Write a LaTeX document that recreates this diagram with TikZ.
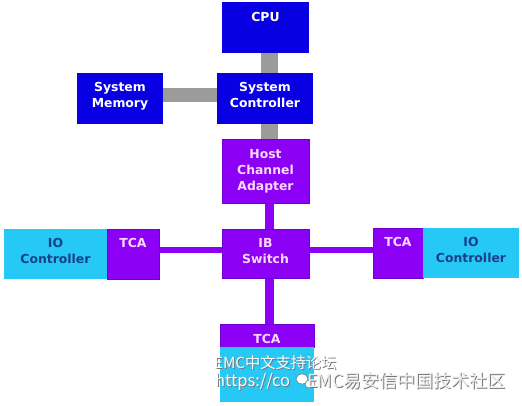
\documentclass[tikz,border=0pt]{standalone}
\usepackage{fontspec}
\setmainfont{DejaVu Sans}
\newfontfamily\cjk{Noto Sans CJK SC}
\usetikzlibrary{backgrounds}
\definecolor{cpublue}{RGB}{8,0,226}
\definecolor{ibpurple}{RGB}{140,0,245}
\definecolor{ibedge}{RGB}{112,0,205}
\definecolor{ioblue}{RGB}{38,200,245}
\definecolor{busgray}{RGB}{155,155,155}
\definecolor{pinktext}{RGB}{250,218,255}
\definecolor{iotext}{RGB}{24,62,140}
\definecolor{wmshadow}{RGB}{120,120,120}
\tikzset{
  x=1pt, y=-1pt,
  boxbase/.style={rectangle, inner sep=0pt, outer sep=0pt},
  bluebox/.style={boxbase, fill=cpublue},
  purplebox/.style={boxbase, fill=ibpurple, draw=ibedge, line width=0.8pt},
  iobox/.style={boxbase, fill=ioblue},
  lbl/.style={anchor=north, inner sep=0pt, align=center,
    font=\bfseries\fontsize{12.4}{16}\selectfont},
  whitelbl/.style={lbl, text=white},
  pinklbl/.style={lbl, text=pinktext},
  iolbl/.style={lbl, text=iotext},
  graybus/.style={draw=busgray, line width=#1},
  purplebus/.style={draw=ibpurple, line width=#1},
  wm/.style={anchor=north west, inner sep=0pt, font=\cjk\fontsize{15.2}{16}\selectfont},
}
\begin{document}
\begin{tikzpicture}
\useasboundingbox (0,0) rectangle (522,406);
% boxes
\node[bluebox, minimum width=87pt, minimum height=51pt] (cpu) at (265.5,27.5) {};
\node[bluebox, minimum width=96pt, minimum height=51pt] (sysc) at (265,98.5) {};
\node[bluebox, minimum width=86pt, minimum height=51pt] (mem) at (120,98.5) {};
\node[purplebox, minimum width=87pt, minimum height=64pt] (hca) at (265.5,171) {};
\node[purplebox, minimum width=87pt, minimum height=49pt] (ib) at (265.5,253.5) {};
\node[iobox, minimum width=103pt, minimum height=50pt] (iol) at (55.5,254) {};
\node[purplebox, minimum width=52pt, minimum height=50pt] (tcal) at (133,254) {};
\node[purplebox, minimum width=50pt, minimum height=50pt] (tcar) at (398,253) {};
\node[iobox, minimum width=96pt, minimum height=50pt] (ior) at (471,253) {};
\node[purplebox, minimum width=94pt, minimum height=23pt] (tcab) at (267,335.5) {};
\node[iobox, minimum width=94pt, minimum height=55pt] (iob) at (267,374.5) {};
% labels
\node[whitelbl] (cpu-t) at (265.5,12.5) {CPU};
\node[whitelbl] (sysc-t) at (265,82.5) {System\\Controller};
\node[whitelbl] (mem-t) at (120,82.5) {System\\Memory};
\node[pinklbl] (hca-t) at (265.5,149.5) {Host\\Channel\\Adapter};
\node[pinklbl] (ib-t) at (265.5,238.5) {IB\\Switch};
\node[iolbl] (iol-t) at (55.5,238.5) {IO\\Controller};
\node[pinklbl] (tcal-t) at (133,238.5) {TCA};
\node[pinklbl] (tcar-t) at (398,237.5) {TCA};
\node[iolbl] (ior-t) at (471,237.5) {IO\\Controller};
\node[pinklbl] (tcab-t) at (267,334.5) {TCA};
% connectors
\coordinate (busx) at (269.5,0);
\coordinate (memy) at (0,95);
\coordinate (swy) at (0,250);
\begin{scope}[on background layer]
\draw[graybus=17pt] (cpu.south -| busx) -- (sysc.north -| busx);
\draw[graybus=17pt] (sysc.south -| busx) -- (hca.north -| busx);
\draw[graybus=14pt] (mem.east |- memy) -- (sysc.west |- memy);
\draw[purplebus=9pt] (hca.south -| busx) -- (ib.north -| busx);
\draw[purplebus=9pt] (ib.south -| busx) -- (tcab.north -| busx);
\draw[purplebus=6.5pt] (tcal.east |- swy) -- (ib.west |- swy);
\draw[purplebus=6.5pt] (ib.east |- swy) -- (tcar.west |- swy);
\end{scope}
% watermark
\node[wm, text=wmshadow] (wm1s) at (215,356) {EMC中文支持论坛};
\node[wm, text=white] (wm1) at (214,355) {EMC中文支持论坛};
\node[wm, text=wmshadow, font=\cjk\fontsize{16.5}{18}\selectfont] (wm2s) at (216,374) {https://co};
\node[wm, text=white, font=\cjk\fontsize{16.5}{18}\selectfont] (wm2) at (215,373) {https://co};
\fill[white, draw=wmshadow, line width=0.6pt] (302,379) ellipse (6pt and 5pt);
\fill[white, draw=wmshadow, line width=0.6pt] (310,384) ellipse (5pt and 4.2pt);
\node[wm, text=wmshadow, font=\cjk\fontsize{18}{18}\selectfont] (wm3s) at (308,373) {EMC易安信中国技术社区};
\node[wm, text=white!94!black, font=\cjk\fontsize{18}{18}\selectfont] (wm3) at (307,372) {EMC易安信中国技术社区};
\end{tikzpicture}
\end{document}
